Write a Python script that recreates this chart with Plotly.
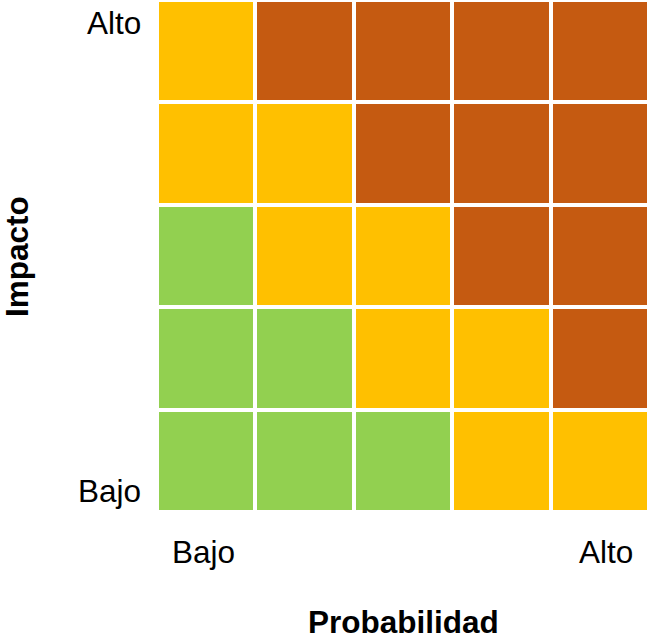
import plotly.graph_objects as go

# Risk matrix data (rows from Bajo impact at bottom to Alto at top)
prob_levels = [1, 2, 3, 4, 5]
impact_levels = [1, 2, 3, 4, 5]
risk_levels = [
    [0, 0, 0, 1, 1],
    [0, 0, 1, 1, 2],
    [0, 1, 1, 2, 2],
    [1, 1, 2, 2, 2],
    [1, 2, 2, 2, 2],
]
risk_colors = ["#92D050", "#FFC000", "#C55A11"]
x_tick_text = ["Bajo", "Alto"]
y_tick_text = ["Bajo", "Alto"]
x_title = "Probabilidad"
y_title = "Impacto"

W, H = 647, 639
L, T = 157, 0
PH = 512

fig = go.Figure(go.Heatmap(
    x=prob_levels, y=impact_levels, z=risk_levels,
    zmin=0, zmax=2,
    colorscale=[[0, risk_colors[0]], [0.5, risk_colors[1]], [1, risk_colors[2]]],
    showscale=False, xgap=4, ygap=4, hoverinfo="skip",
))

font = dict(family="Liberation Sans, Arial, sans-serif", size=31.5, color="black")
bold = dict(family="Liberation Sans, Arial, sans-serif", size=31.5, color="black", weight="bold")

def py(px):
    return 1 - (px - T) / PH

def pxx(px):
    return (px - L) / (W - L)

ann = []
# y-axis end labels
ann.append(dict(x=pxx(143), y=py(23), xref="paper", yref="paper", text=y_tick_text[1],
                xanchor="right", yanchor="middle", showarrow=False, font=font))
ann.append(dict(x=pxx(143), y=py(491), xref="paper", yref="paper", text=y_tick_text[0],
                xanchor="right", yanchor="middle", showarrow=False, font=font))
# x-axis end labels
ann.append(dict(x=pxx(203), y=py(552), xref="paper", yref="paper", text=x_tick_text[0],
                xanchor="center", yanchor="middle", showarrow=False, font=font))
ann.append(dict(x=pxx(606), y=py(552), xref="paper", yref="paper", text=x_tick_text[1],
                xanchor="center", yanchor="middle", showarrow=False, font=font))
# titles
ann.append(dict(x=pxx(403), y=py(622), xref="paper", yref="paper", text=x_title,
                xanchor="center", yanchor="middle", showarrow=False, font=bold))
ann.append(dict(x=pxx(17), y=py(257), xref="paper", yref="paper", text=y_title,
                xanchor="center", yanchor="middle", showarrow=False, font=bold, textangle=-90))

fig.update_layout(
    width=W, height=H,
    margin=dict(l=L, r=0, t=T, b=H - T - PH, pad=0),
    paper_bgcolor="white", plot_bgcolor="white",
    xaxis=dict(range=[0.5, 5.5 - 2 / 98], showticklabels=False, showgrid=False,
               zeroline=False, ticks="", fixedrange=True),
    yaxis=dict(range=[0.5, 5.5], showticklabels=False, showgrid=False,
               zeroline=False, ticks="", fixedrange=True),
    annotations=ann,
    showlegend=False,
)

fig.write_html("out.html", config={"displayModeBar": False})
